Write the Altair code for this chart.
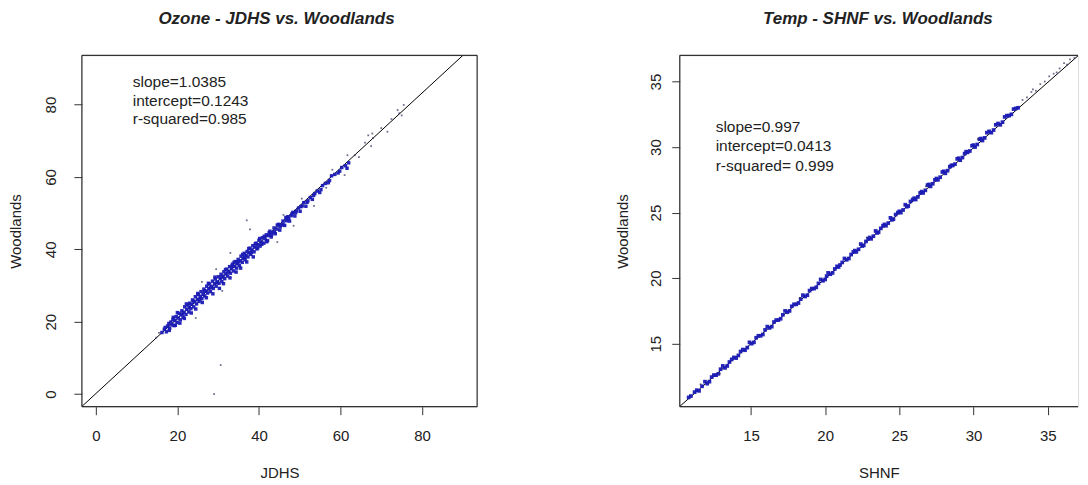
import altair as alt
import pandas as pd

FONT = "Liberation Sans"
TXT = "#222222"
AX = "#333333"
BLUE = "#1a1ab4"
DARK = "#2a2a5a"

# ---------------- Ozone: JDHS (x) vs Woodlands (y) ----------------
oz_x = [16.2, 16.8, 17.3, 17.6, 17.9, 18.1, 18.4, 18.7, 18.9, 19.2, 19.4, 19.7, 19.9, 20.2, 20.4,
        20.7, 20.9, 21.1, 21.4, 21.6, 21.8, 22.1, 22.3, 22.6, 22.8, 23.0, 23.3, 23.5, 23.7, 24.0,
        24.2, 24.4, 24.7, 24.9, 25.1, 25.3, 25.6, 25.8, 26.0, 26.3, 26.5, 26.7, 27.0, 27.2, 27.4,
        27.7, 27.9, 28.1, 28.4, 28.6, 28.8, 29.1, 29.3, 29.5, 29.8, 30.0, 30.2, 30.5, 30.7, 30.9,
        31.2, 31.4, 31.6, 31.9, 32.1, 32.3, 32.6, 32.8, 33.0, 33.3, 33.5, 33.8, 34.0, 34.2, 34.5,
        34.7, 34.9, 35.2, 35.4, 35.6, 35.9, 36.1, 36.4, 36.6, 36.8, 37.1, 37.3, 37.6, 37.8, 38.0,
        38.3, 38.5, 38.8, 39.0, 39.3, 39.5, 39.8, 40.0, 40.3, 40.6, 40.9, 41.2, 41.5, 41.8, 42.1,
        42.4, 42.7, 43.0, 43.4, 43.7, 44.0, 44.4, 44.8, 45.1, 45.5, 45.9, 46.3, 46.7, 47.1, 47.5,
        47.9, 48.3, 48.8, 49.2, 49.7, 50.1, 50.6, 51.0, 51.5, 52.0, 52.6, 53.1, 53.7, 54.3, 54.9,
        55.6, 56.3, 57.0, 57.8, 58.6, 59.4, 60.3, 61.2, 62.0]
oz_y = [17.0, 17.9, 17.2, 18.8, 19.5, 18.2, 19.9, 19.1, 20.6, 18.9, 20.3, 21.4, 19.8, 21.0, 22.3,
        20.5, 21.9, 23.0, 21.2, 22.6, 24.1, 22.0, 23.4, 24.6, 22.7, 25.1, 23.6, 24.8, 26.0, 24.1,
        25.5, 26.9, 24.9, 26.2, 27.5, 25.6, 27.0, 28.3, 26.4, 27.6, 29.0, 27.1, 28.5, 29.8, 27.9,
        29.1, 30.4, 28.3, 29.7, 31.2, 29.2, 30.5, 31.8, 29.8, 31.0, 32.4, 30.6, 31.9, 33.1, 31.1,
        32.6, 33.8, 31.9, 33.2, 34.5, 32.6, 33.9, 35.2, 33.4, 34.6, 35.9, 34.0, 35.3, 36.6, 34.8,
        36.0, 37.2, 35.5, 36.8, 38.1, 36.4, 37.5, 38.9, 37.1, 38.3, 39.4, 37.9, 39.0, 40.3, 38.6,
        39.8, 41.0, 39.3, 40.6, 41.7, 40.1, 41.3, 42.5, 40.9, 42.0, 43.2, 41.7, 42.9, 44.0, 42.4,
        43.8, 45.0, 43.4, 44.6, 45.9, 44.3, 45.6, 46.9, 45.3, 46.7, 47.8, 46.6, 47.9, 49.0, 47.8,
        49.3, 50.2, 49.2, 50.6, 51.4, 50.5, 52.0, 52.9, 51.9, 53.4, 54.3, 53.8, 55.4, 56.1, 55.7,
        57.6, 58.2, 58.4, 60.3, 60.7, 61.1, 62.6, 63.1, 63.9]
oz_x2 = [17.0, 18.0, 19.0, 19.5, 20.0, 20.6, 21.2, 21.7, 22.2, 22.9, 23.4, 23.9, 24.5, 25.0, 25.5,
         26.1, 26.6, 27.1, 27.6, 28.2, 28.7, 29.2, 29.7, 30.3, 30.8, 31.3, 31.8, 32.4, 32.9, 33.4,
         33.9, 34.4, 34.9, 35.5, 36.0, 36.5, 37.0, 37.5, 38.1, 38.6, 39.1, 39.7, 40.2, 40.7, 41.3,
         41.9, 42.5, 43.1, 43.8, 44.5, 45.2, 45.9, 46.6, 47.3, 48.1, 49.0, 50.3, 51.8, 53.4, 55.2,
         57.3, 59.8, 61.6]
oz_y2 = [18.4, 17.6, 21.2, 19.0, 22.5, 19.6, 22.1, 20.9, 24.9, 23.9, 22.4, 25.7, 23.5, 27.8, 26.1,
         25.3, 28.4, 26.6, 30.6, 29.4, 27.7, 32.3, 30.8, 29.2, 32.3, 30.5, 34.4, 33.7, 32.1, 35.4,
         36.4, 33.7, 36.5, 34.8, 38.6, 37.8, 36.5, 40.2, 39.2, 37.9, 41.5, 40.4, 43.0, 41.4, 43.6,
         42.1, 44.6, 44.0, 44.9, 46.7, 46.2, 46.9, 48.8, 48.5, 49.8, 50.1, 51.8, 53.0, 54.9, 56.5,
         59.0, 61.6, 62.4]
oz_sparse_x = [14.8, 15.5, 24.5, 26.0, 29.5, 31.0, 33.0, 44.5, 46.0, 48.5, 50.5, 53.5, 56.5, 58.0,
               61.0, 61.7, 63.5, 64.5, 66.0, 66.8, 67.5, 67.8, 68.0, 70.0, 71.5, 72.5, 74.0, 74.4,
               75.0, 75.5, 29.0, 30.6, 37.0, 37.8]
oz_sparse_y = [15.6, 16.9, 21.0, 31.0, 34.5, 28.5, 39.0, 42.0, 49.5, 46.5, 54.0, 52.0, 57.0, 62.0,
               60.5, 66.0, 66.0, 65.5, 69.5, 71.5, 68.5, 72.0, 70.8, 73.5, 72.5, 76.0, 78.5, 77.6,
               77.0, 79.9, 0.0, 8.0, 48.0, 45.5]
oz_stats = ["slope=1.0385", "intercept=0.1243", "r-squared=0.985"]
oz_fit = [1.0385, 0.1243]
oz_ticks = [0, 20, 40, 60, 80]

# ---------------- Temp: SHNF (x) vs Woodlands (y) ----------------
tp_x = [10.8, 11.2, 11.5, 11.9, 12.2, 12.5, 12.8, 13.1, 13.4, 13.7, 14.0, 14.3, 14.6, 14.9, 15.2,
        15.5, 15.8, 16.1, 16.4, 16.7, 17.0, 17.3, 17.6, 17.9, 18.2, 18.5, 18.8, 19.1, 19.4, 19.7,
        20.0, 20.2, 20.5, 20.8, 21.0, 21.3, 21.6, 21.9, 22.1, 22.4, 22.6, 22.9, 23.1, 23.4, 23.6,
        23.9, 24.1, 24.4, 24.6, 24.9, 25.1, 25.4, 25.6, 25.9, 26.1, 26.4, 26.6, 26.9, 27.1, 27.4,
        27.6, 27.9, 28.1, 28.4, 28.6, 28.9, 29.1, 29.4, 29.6, 29.9, 30.1, 30.4, 30.6, 30.9, 31.2,
        31.5, 31.8, 32.1, 32.4, 32.7, 33.0]
tp_y = [10.9, 11.3, 11.4, 12.1, 12.1, 12.6, 12.7, 13.3, 13.3, 13.8, 13.9, 14.4, 14.5, 15.1, 15.1,
        15.6, 15.7, 16.3, 16.3, 16.8, 16.9, 17.5, 17.5, 18.0, 18.1, 18.7, 18.7, 19.2, 19.3, 19.9,
        19.9, 20.4, 20.4, 20.9, 21.0, 21.5, 21.5, 22.0, 22.0, 22.6, 22.5, 23.0, 23.0, 23.6, 23.5,
        24.0, 24.0, 24.6, 24.5, 25.0, 25.0, 25.6, 25.5, 26.0, 26.0, 26.5, 26.5, 27.1, 27.0, 27.5,
        27.5, 28.1, 28.0, 28.5, 28.6, 29.1, 29.0, 29.5, 29.6, 30.1, 30.0, 30.6, 30.5, 31.1, 31.1,
        31.7, 31.7, 32.3, 32.4, 32.9, 33.0]
tp_x2 = [10.95, 11.35, 11.7, 12.05, 12.35, 12.65, 12.95, 13.25, 13.55, 13.85, 14.15, 14.45, 14.75,
         15.05, 15.35, 15.65, 15.95, 16.25, 16.55, 16.85, 17.15, 17.45, 17.75, 18.05, 18.35, 18.65,
         18.95, 19.25, 19.55, 19.85, 20.1, 20.35, 20.65, 20.9, 21.15, 21.45, 21.75, 22.0, 22.25,
         22.5, 22.75, 23.0, 23.25, 23.5, 23.75, 24.0, 24.25, 24.5, 24.75, 25.0, 25.25, 25.5, 25.75,
         26.0, 26.25, 26.5, 26.75, 27.0, 27.25, 27.5, 27.75, 28.0, 28.25, 28.5, 28.75, 29.0, 29.25,
         29.5, 29.75, 30.0, 30.25, 30.5, 30.75, 31.05, 31.35, 31.65, 31.95, 32.25, 32.55, 32.85]
tp_y2 = [11.0, 11.45, 11.75, 11.95, 12.45, 12.6, 13.05, 13.15, 13.6, 13.95, 14.1, 14.55, 14.7,
         15.0, 15.45, 15.6, 16.05, 16.2, 16.65, 16.8, 17.2, 17.4, 17.85, 18.0, 18.4, 18.6,
         19.05, 19.2, 19.6, 19.8, 20.15, 20.3, 20.7, 20.85, 21.2, 21.4, 21.8, 22.1, 22.2,
         22.45, 22.8, 23.1, 23.2, 23.45, 23.8, 24.1, 24.2, 24.45, 24.85, 25.1, 25.2, 25.45, 25.85,
         26.1, 26.2, 26.6, 26.7, 27.15, 27.2, 27.6, 27.7, 28.15, 28.2, 28.6, 28.7, 29.15, 29.2,
         29.65, 29.7, 30.15, 30.2, 30.65, 30.7, 31.2, 31.3, 31.8, 31.9, 32.4, 32.5, 32.95]
tp_sparse_x = [11.6, 12.9, 18.3, 22.8, 26.8, 30.3, 33.3, 33.6, 33.9, 34.2, 34.5, 34.8, 35.1, 35.4,
               35.8, 36.1, 36.5, 36.8, 34.0, 35.6, 36.3]
tp_sparse_y = [11.9, 12.7, 18.5, 23.1, 27.0, 30.6, 33.6, 33.8, 34.2, 34.3, 34.8, 35.0, 35.4, 35.6,
               36.0, 36.4, 36.7, 36.8, 34.4, 35.7, 36.3]
tp_stats = ["slope=0.997", "intercept=0.0413", "r-squared= 0.999"]
tp_fit = [0.997, 0.0413]
tp_ticks = [15, 20, 25, 30, 35]

ONE = pd.DataFrame({"k": [0]})


def panel(dx, dy, ex, ey, sx, sy, fit, xdom, ydom, ticks, title, xtitle, ytitle, stats,
          width, height, title_dx, text_x, text_y, line_h, ylab_pad, ytitle_pad, right_border,
          psize):
    dense = pd.DataFrame({"x": dx + ex, "y": dy + ey})
    sparse = pd.DataFrame({"x": sx, "y": sy})
    line = pd.DataFrame({"x": xdom, "y": [fit[0] * v + fit[1] for v in xdom]})
    common = dict(grid=False, domain=False, tickSize=8, tickColor=AX, tickWidth=1,
                  labelFont=FONT, labelFontSize=15, labelColor=TXT, labelOverlap=False,
                  labelFlush=False, titleFont=FONT, titleFontSize=15, titleFontWeight="normal",
                  titleColor=TXT)
    xax = alt.Axis(values=ticks, title=xtitle, labelPadding=14, titlePadding=22, **common)
    yax = alt.Axis(values=ticks, title=ytitle, labelAngle=270, labelAlign="center",
                   labelBaseline="bottom", labelPadding=ylab_pad, titlePadding=ytitle_pad, **common)
    X = alt.X("x:Q", scale=alt.Scale(domain=xdom, nice=False, zero=False), axis=xax)
    Y = alt.Y("y:Q", scale=alt.Scale(domain=ydom, nice=False, zero=False), axis=yax)
    fit_l = alt.Chart(line).mark_line(color="black", strokeWidth=1, clip=True).encode(x=X, y=Y)
    pts = alt.Chart(dense).mark_square(size=psize, color=BLUE, opacity=0.95).encode(x=X, y=Y)
    sp = alt.Chart(sparse).mark_square(size=3, color=DARK).encode(x=X, y=Y)
    txt = alt.Chart(ONE).mark_text(text=stats, align="left", baseline="top", font=FONT,
                                   fontSize=15.5, color=TXT, lineHeight=line_h).encode(
        x=alt.value(text_x), y=alt.value(text_y))
    rule = alt.Chart(ONE).mark_rule(color=AX, strokeWidth=1.2)
    frames = [
        rule.encode(x=alt.value(0), x2=alt.value(width), y=alt.value(0)),
        rule.encode(x=alt.value(0), x2=alt.value(width), y=alt.value(height)),
        rule.encode(x=alt.value(0), y=alt.value(0), y2=alt.value(height)),
    ]
    if right_border:
        frames.append(rule.encode(x=alt.value(width), y=alt.value(0), y2=alt.value(height)))
    return alt.layer(fit_l, pts, sp, txt, *frames).properties(
        width=width, height=height,
        title=alt.TitleParams(title, font=FONT, fontSize=17, fontWeight="bold",
                              fontStyle="italic", color=TXT, anchor="middle", dx=title_dx,
                              offset=27))


left = panel(oz_x, oz_y, oz_x2, oz_y2, oz_sparse_x, oz_sparse_y, oz_fit,
             [-3.43, 93.5], [-3.5, 93.6], oz_ticks, "Ozone - JDHS vs. Woodlands", "JDHS",
             "Woodlands", oz_stats, 396, 352, -3, 51, 20, 18.3, 15, 20, True, 12)
right = panel(tp_x, tp_y, tp_x2, tp_y2, tp_sparse_x, tp_sparse_y, tp_fit,
              [10.2, 37.04], [10.19, 37.0], tp_ticks, "Temp - SHNF vs. Woodlands", "SHNF",
              "Woodlands", tp_stats, 399, 352, -1, 36, 65, 19.2, 8, 18, False, 14)

chart = alt.hconcat(left, right, spacing=203, bounds="flush").properties(
    padding={"left": 0, "top": 0, "right": 0, "bottom": 0},
).configure_view(stroke="transparent").configure(background="white")

chart.save("out.html", embed_options={"renderer": "svg", "actions": False})
